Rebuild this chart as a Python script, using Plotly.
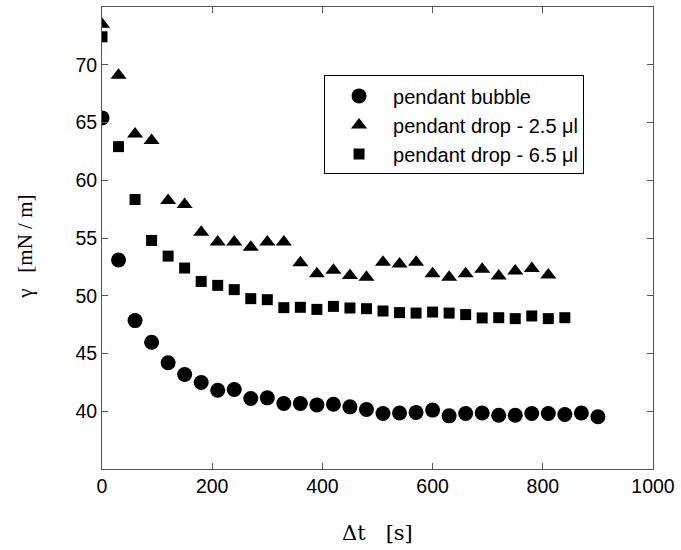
import plotly.graph_objects as go

t_bubble = [0, 30, 60, 90, 120, 150, 180, 210, 240, 270, 300, 330, 360, 390, 420, 450,
            480, 510, 540, 570, 600, 630, 660, 690, 720, 750, 780, 810, 840, 870, 900]
g_bubble = [65.4, 53.1, 47.85, 45.97, 44.2, 43.18, 42.49, 41.82, 41.88, 41.1, 41.16, 40.67,
            40.67, 40.55, 40.6, 40.38, 40.15, 39.81, 39.85, 39.9, 40.1, 39.6, 39.8, 39.85,
            39.66, 39.66, 39.8, 39.8, 39.72, 39.85, 39.52]

t_drop25 = [0, 30, 60, 90, 120, 150, 180, 210, 240, 270, 300, 330, 360, 390, 420, 450,
            480, 510, 540, 570, 600, 630, 660, 690, 720, 750, 780, 810]
g_drop25 = [73.5, 69.1, 64.0, 63.45, 58.25, 57.9, 55.5, 54.65, 54.65, 54.2, 54.65, 54.65,
            52.85, 51.9, 52.2, 51.75, 51.6, 52.9, 52.75, 52.9, 51.9, 51.6, 51.9, 52.3,
            51.7, 52.15, 52.35, 51.8]

t_drop65 = [0, 30, 60, 90, 120, 150, 180, 210, 240, 270, 300, 330, 360, 390, 420, 450,
            480, 510, 540, 570, 600, 630, 660, 690, 720, 750, 780, 810, 840]
g_drop65 = [72.42, 62.91, 58.33, 54.79, 53.43, 52.4, 51.24, 50.9, 50.53, 49.75, 49.66, 48.97,
            49.0, 48.82, 49.08, 48.94, 48.88, 48.68, 48.54, 48.5, 48.59, 48.5, 48.37, 48.08,
            48.1, 48.02, 48.25, 48.02, 48.1]

x_ticks = [0, 200, 400, 600, 800, 1000]
y_ticks = [40, 45, 50, 55, 60, 65, 70]

fig = go.Figure()
fig.add_trace(go.Scatter(x=t_bubble, y=g_bubble, mode="markers", name="pendant bubble",
                         legendgroup="a",
                         marker=dict(symbol="circle", size=15, color="black")))
fig.add_trace(go.Scatter(x=t_drop25, y=g_drop25, mode="markers", name="pendant drop - 2.5 \u03bcl",
                         legendgroup="b",
                         marker=dict(symbol="triangle-up", size=14, color="black")))
fig.add_trace(go.Scatter(x=t_drop65, y=g_drop65, mode="markers", name="pendant drop - 6.5 \u03bcl",
                         legendgroup="c",
                         marker=dict(symbol="square", size=11, color="black")))

axis_common = dict(showline=True, linecolor="#555555", linewidth=1, mirror="ticks",
                   ticks="inside", ticklen=6, tickcolor="#555555", showgrid=False,
                   zeroline=False,
                   tickfont=dict(family="Arial, Liberation Sans, sans-serif", size=19.5, color="black"))

fig.update_xaxes(range=[0, 1000], tickvals=x_ticks, **axis_common)
fig.update_yaxes(range=[35, 75], tickvals=y_ticks, **axis_common)

fig.update_layout(
    width=681, height=550,
    margin=dict(l=102, r=23, t=6, b=81),
    plot_bgcolor="white", paper_bgcolor="white",
    showlegend=True,
    legend=dict(x=0.403, y=0.852, xanchor="left", yanchor="top",
                bordercolor="black", borderwidth=1, bgcolor="white",
                itemwidth=58, tracegroupgap=0,
                font=dict(family="Arial, Liberation Sans, sans-serif", size=20, color="black")),
    annotations=[
        dict(text="\u0394t&nbsp;&nbsp;&nbsp;[s]", xref="paper", yref="paper",
             x=0.5, y=-0.138, xanchor="center", yanchor="middle", showarrow=False,
             font=dict(family="DejaVu Serif, Liberation Serif, serif", size=21, color="black")),
        dict(text="\u03b3&nbsp;&nbsp;&nbsp;[mN / m]", xref="paper", yref="paper",
             x=-0.139, y=0.482, xanchor="center", yanchor="middle", showarrow=False,
             textangle=-90,
             font=dict(family="Liberation Serif, serif", size=21, color="black")),
    ],
)

fig.write_html("out.html")
